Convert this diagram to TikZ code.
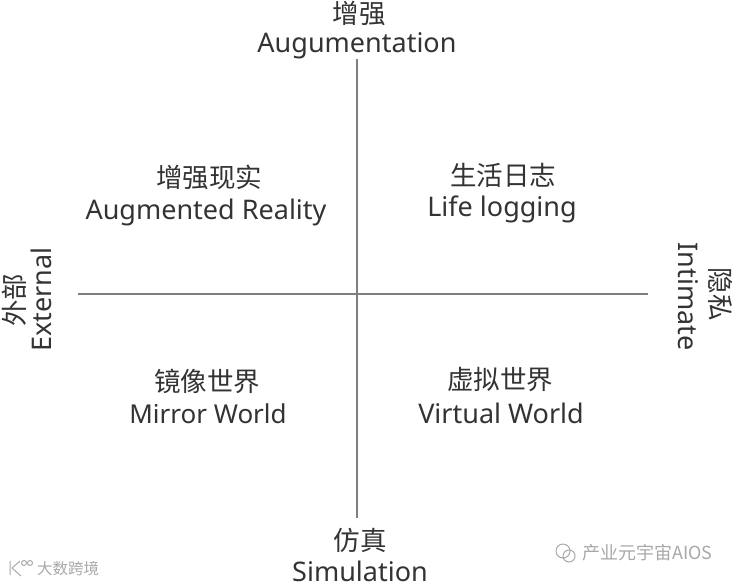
\documentclass[tikz,border=0pt]{standalone}
\usepackage{fontspec}
\setmainfont{Noto Sans}
\newfontfamily\cjk{Noto Sans CJK SC}
\definecolor{axisgray}{HTML}{7F7F7F}
\definecolor{textgray}{HTML}{333333}
\definecolor{markgray}{HTML}{A8A8A8}
\tikzset{
    axisline/.style={axisgray, line width=2pt},
    zh/.style={textgray, font=\cjk\fontsize{26.5}{30}\selectfont, inner sep=0pt},
    en/.style={textgray, font=\fontsize{27}{30}\selectfont, inner sep=0pt},
    mark left/.style={markgray, font=\cjk\fontsize{15.5}{18}\selectfont, inner sep=0pt},
    mark right/.style={markgray, font=\cjk\fontsize{18}{20}\selectfont, inner sep=0pt}
}
\begin{document}
\begin{tikzpicture}[x=1pt, y=-1pt]

    \useasboundingbox (0,0) rectangle (735,584);

    % Axes
    \coordinate (left) at (78,294);
    \coordinate (right) at (648,294);
    \coordinate (top) at (357,59);
    \coordinate (bottom) at (357,518);
    \draw[axisline] (left) -- (right);
    \draw[axisline] (top) -- (bottom);

    % Axis ends
    \node[zh] (augZh) at (359,14) {\cjk 增强};
    \node[en] (augEn) at (357,46) {Augumentation};
    \node[zh] (simZh) at (360,540) {\cjk 仿真};
    \node[en] (simEn) at (360,571) {Simulation};
    \node[zh, rotate=90] (extZh) at (14,300) {\cjk 外部};
    \node[en, rotate=90] (extEn) at (41,299.5) {External};
    \node[en, rotate=-90] (intEn) at (688,296.5) {Intimate};
    \node[zh, rotate=-90] (intZh) at (720,294) {\cjk 隐私};

    % Quadrants
    \node[zh] (arZh) at (209,177) {\cjk 增强现实};
    \node[en] (arEn) at (206,212) {Augmented Reality};
    \node[zh] (lifeZh) at (503,175) {\cjk 生活日志};
    \node[en] (lifeEn) at (502,209) {Life logging};
    \node[zh] (mirrorZh) at (207,381) {\cjk 镜像世界};
    \node[en, font=\fontsize{26}{30}\selectfont] (mirrorEn) at (208,414) {Mirror World};
    \node[zh] (virtualZh) at (500,380) {\cjk 虚拟世界};
    \node[en] (virtualEn) at (501,413) {Virtual World};

    % Watermarks
    \node[mark left, anchor=west] (markLeft) at (37,569) {大数跨境};
    \node[mark right, anchor=west] (markRight) at (582,553) {产业元宇宙AIOS};
    \draw[markgray, line width=1pt] (10,561) -- (10,575) (12,568) -- (20,561) (12,568) -- (21,576);
    \draw[markgray, line width=1pt] (24,563) circle[radius=2.5] (30,563) circle[radius=2.5];
    \draw[markgray, line width=1pt] (563,551) circle[radius=7] (569,556) circle[radius=6];

\end{tikzpicture}
\end{document}
